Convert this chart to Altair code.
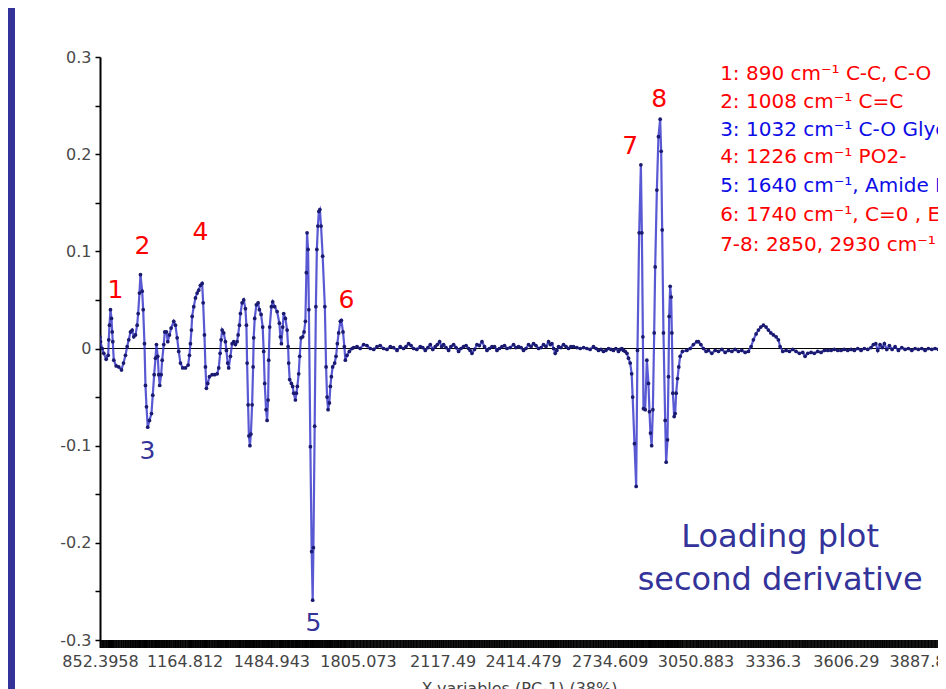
import altair as alt
import pandas as pd

# ---- loading values (wavenumber cm-1, loading) ----
fingerprint_a = [
    (852.4, 0.012), (854.2, 0.007), (860.5, 0.000), (866.4, -0.005), (875.2, -0.011), (882.6, -0.007),
    (884.8, 0.009), (887.4, 0.024), (891.1, 0.040), (894.8, 0.031), (897.4, 0.017), (899.6, 0.007),
    (903.3, -0.012), (912.2, -0.018), (921.7, -0.019), (931.7, -0.022), (939.1, -0.015), (946.5, -0.007),
    (952.7, 0.002), (958.6, 0.009), (964.9, 0.017), (971.2, 0.019), (977.1, 0.012), (983.4, 0.014),
    (989.6, 0.024), (993.3, 0.036), (998.1, 0.057), (1001.8, 0.076), (1008.1, 0.059), (1011.8, 0.040),
    (1016.6, 0.005), (1020.3, -0.038), (1024.0, -0.060), (1028.7, -0.081), (1035.0, -0.074), (1042.4, -0.067),
    (1047.2, -0.048), (1052.4, -0.027), (1057.2, -0.010), (1060.8, 0.004), (1065.6, -0.008), (1069.3, -0.027),
    (1073.0, -0.038), (1078.2, -0.027), (1081.9, -0.012), (1087.8, 0.004), (1091.5, 0.017), (1097.7, 0.017),
    (1102.6, 0.007), (1108.8, 0.014), (1115.1, 0.021), (1124.7, 0.028), (1131.0, 0.024), (1137.2, 0.011),
    (1143.1, -0.003), (1149.4, -0.015), (1157.9, -0.020), (1167.9, -0.020), (1177.8, -0.017),
]
fingerprint_b = [
    (1182.6, -0.007), (1186.3, 0.005), (1190.0, 0.019), (1192.6, 0.033), (1198.5, 0.043), (1204.8, 0.052),
    (1211.0, 0.057), (1216.9, 0.060), (1223.2, 0.065), (1229.5, 0.067), (1233.2, 0.047), (1238.0, 0.014),
    (1241.7, -0.019), (1245.3, -0.041), (1250.1, -0.036), (1256.4, -0.029), (1266.4, -0.027), (1276.0, -0.027),
    (1284.9, -0.026), (1290.8, -0.020), (1295.9, -0.005), (1299.6, 0.009), (1303.3, 0.019), (1309.2, 0.016),
    (1315.5, 0.007), (1319.1, -0.002), (1323.9, -0.015), (1327.6, -0.020), (1333.9, -0.008), (1340.2, 0.005),
    (1346.1, 0.007), (1352.3, 0.004), (1358.6, 0.007), (1362.3, 0.014), (1367.1, 0.024), (1370.8, 0.036),
    (1377.1, 0.047), (1383.0, 0.050), (1389.3, 0.041), (1392.9, 0.024), (1395.5, -0.015), (1399.2, -0.058),
    (1402.2, -0.090), (1405.9, -0.100), (1409.6, -0.088), (1414.0, -0.058), (1417.7, -0.019), (1419.9, 0.011),
    (1423.6, 0.031), (1429.8, 0.045), (1436.1, 0.047), (1440.9, 0.040), (1447.2, 0.035), (1453.1, 0.022),
    (1456.8, -0.003), (1460.5, -0.036), (1465.6, -0.063), (1469.3, -0.074), (1473.0, -0.053), (1475.3, -0.012),
    (1478.9, 0.022), (1485.2, 0.043), (1490.0, 0.048), (1497.4, 0.043), (1506.3, 0.038), (1514.7, 0.026),
    (1518.4, 0.012), (1522.1, 0.005), (1527.0, 0.022), (1530.6, 0.036), (1536.9, 0.031), (1543.2, 0.019),
    (1546.9, 0.002), (1549.1, -0.015), (1552.7, -0.032), (1559.0, -0.036), (1563.8, -0.039), (1567.5, -0.046),
    (1573.8, -0.053), (1577.4, -0.046), (1581.1, -0.039), (1586.0, -0.026), (1589.7, -0.008), (1594.6, 0.011),
    (1600.7, 0.012), (1605.8, 0.017), (1610.7, 0.028), (1614.3, 0.078), (1616.9, 0.119), (1620.6, 0.102),
    (1623.6, 0.040), (1629.1, -0.101), (1633.9, -0.209), (1637.6, -0.259), (1640.3, -0.205), (1645.0, -0.080),
    (1649.4, 0.043), (1653.1, 0.102), (1656.8, 0.126), (1660.5, 0.141), (1664.2, 0.143), (1668.6, 0.126),
    (1674.5, 0.095), (1682.6, 0.043), (1687.1, -0.019), (1690.8, -0.050), (1694.5, -0.063), (1699.2, -0.056),
    (1702.9, -0.039), (1706.6, -0.029), (1711.4, -0.019), (1718.8, -0.015), (1723.9, -0.008), (1728.7, 0.005),
    (1733.6, 0.016), (1739.8, 0.028), (1743.5, 0.029), (1749.6, 0.017), (1754.6, 0.002), (1758.2, -0.012),
    (1764.5, -0.007), (1773.0, -0.003), (1783.0, 0.000),
]
quiet_region = [
    (1789.0, 0.001), (1801.4, 0.002), (1813.0, 0.000), (1825.8, 0.004), (1838.0, 0.003), (1850.5, 0.000),
    (1863.0, -0.001), (1875.2, 0.002), (1887.0, 0.003), (1899.6, 0.000), (1912.0, -0.001), (1924.3, 0.002),
    (1936.0, 0.001), (1949.0, -0.002), (1961.0, 0.002), (1973.4, 0.000), (1982.0, 0.002), (1991.8, 0.005),
    (2001.0, 0.003), (2010.3, 0.000), (2022.0, -0.001), (2035.0, 0.002), (2044.0, 0.001), (2053.5, -0.002),
    (2063.0, 0.001), (2071.9, 0.004), (2081.0, -0.001), (2090.4, 0.002), (2098.0, 0.004), (2106.3, 0.007),
    (2114.0, 0.002), (2121.0, 0.004), (2130.0, 0.001), (2139.5, -0.002), (2148.0, 0.002), (2157.9, 0.004),
    (2167.0, 0.001), (2176.4, -0.003), (2185.0, 0.000), (2194.8, 0.002), (2204.0, 0.003), (2213.3, 0.000),
    (2219.0, -0.002), (2225.8, -0.005), (2235.0, -0.001), (2244.3, 0.004), (2253.0, 0.003), (2262.7, 0.007),
    (2272.0, 0.002), (2281.2, -0.002), (2290.0, 0.000), (2299.6, 0.002), (2309.0, 0.002), (2318.1, -0.002),
    (2327.0, 0.000), (2336.5, 0.002), (2346.0, 0.003), (2355.0, 0.000), (2367.0, 0.001), (2379.3, 0.004),
    (2388.0, 0.001), (2397.8, 0.002), (2407.0, 0.001), (2416.2, -0.002), (2425.0, 0.000), (2434.7, 0.004),
    (2444.0, 0.002), (2453.1, 0.005), (2462.0, 0.003), (2471.6, 0.000), (2481.0, 0.001), (2490.0, 0.004),
    (2499.0, 0.002), (2508.5, 0.007), (2515.0, 0.004), (2521.0, 0.005), (2527.0, 0.000), (2533.2, -0.005),
    (2539.0, -0.002), (2545.4, 0.002), (2554.0, 0.001), (2563.8, 0.004), (2573.0, 0.002), (2582.3, 0.000),
    (2591.0, 0.002), (2600.7, 0.002), (2613.0, 0.001), (2625.4, 0.000), (2638.0, 0.001), (2650.1, 0.000),
    (2662.0, -0.001), (2674.4, 0.002), (2684.0, 0.000), (2692.9, -0.002), (2702.0, -0.001), (2711.3, -0.003),
    (2720.0, -0.002), (2729.8, 0.000), (2739.0, -0.001), (2748.2, -0.002), (2757.0, 0.000), (2766.7, -0.003),
    (2773.0, -0.001), (2779.2, 0.000), (2785.0, -0.002), (2791.4, -0.003),
]
ch_stretch = [
    (2797.8, -0.005), (2803.6, -0.010), (2809.9, -0.015), (2815.4, -0.026), (2819.1, -0.050), (2825.7, -0.098),
    (2832.0, -0.142), (2836.8, -0.002), (2843.1, 0.119), (2849.4, 0.189), (2853.1, 0.119), (2856.8, 0.012),
    (2859.0, -0.062), (2865.3, -0.063), (2871.5, -0.012), (2877.4, -0.036), (2881.1, -0.065), (2884.8, -0.087),
    (2889.2, -0.100), (2893.7, -0.063), (2898.5, 0.016), (2902.2, 0.084), (2908.4, 0.163), (2914.3, 0.218),
    (2920.6, 0.236), (2924.3, 0.203), (2928.0, 0.122), (2932.8, 0.016), (2939.1, -0.074), (2942.7, -0.117),
    (2947.6, -0.094), (2951.3, -0.029), (2953.8, 0.033), (2957.5, 0.064), (2961.2, 0.053), (2963.8, 0.016),
    (2967.5, -0.046), (2972.3, -0.070), (2976.0, -0.067), (2979.6, -0.046), (2984.6, -0.031), (2989.4, -0.019),
    (2994.4, -0.008), (3002.8, -0.003), (3019.1, -0.002), (3031.3, 0.000),
]
high_region = [
    (3043.4, 0.004), (3055.8, 0.007), (3061.9, 0.007), (3070.8, 0.004), (3080.4, 0.000), (3090.3, -0.003),
    (3098.8, -0.002), (3111.2, -0.005), (3123.6, -0.002), (3135.7, -0.003), (3148.3, -0.001), (3160.5, -0.004),
    (3172.7, -0.002), (3185.2, -0.003), (3197.4, -0.001), (3209.6, -0.003), (3222.1, -0.002), (3234.3, -0.004),
    (3246.4, -0.003), (3256.4, 0.002), (3264.9, 0.009), (3274.8, 0.015), (3283.4, 0.019), (3292.2, 0.022),
    (3301.8, 0.024), (3311.7, 0.022), (3320.2, 0.019), (3329.1, 0.016), (3338.7, 0.014), (3348.6, 0.012),
    (3357.1, 0.009), (3363.4, 0.002), (3373.3, -0.003), (3385.5, -0.002), (3397.7, -0.003), (3410.2, -0.001),
    (3422.4, -0.003), (3434.6, -0.005), (3447.1, -0.004), (3455.7, -0.008), (3465.5, -0.005), (3477.8, -0.004),
    (3489.9, -0.005), (3502.4, -0.003), (3514.7, -0.004), (3526.8, -0.002), (3539.4, -0.002), (3551.6, -0.002),
    (3563.8, -0.001), (3576.3, -0.002), (3588.5, -0.002), (3600.6, -0.001), (3613.2, -0.002), (3625.4, -0.001),
    (3637.5, -0.002), (3650.1, 0.000), (3662.3, -0.002), (3674.4, 0.000), (3687.0, -0.001), (3699.2, 0.001),
    (3707.7, 0.004), (3716.6, 0.005), (3724.0, -0.002), (3732.5, 0.004), (3741.0, 0.001), (3748.4, 0.005),
    (3757.3, -0.001), (3766.9, 0.003), (3776.9, -0.001), (3788.0, 0.002), (3800.2, -0.002), (3812.7, 0.001),
    (3824.9, -0.001), (3837.0, 0.000), (3849.6, -0.002), (3861.8, 0.000), (3873.9, -0.001), (3886.5, 0.000),
    (3898.7, -0.002), (3910.8, 0.000), (3923.4, -0.001), (3935.6, 0.000), (3947.8, -0.001),
]

x_tick_values = [852.3958, 1164.812, 1484.943, 1805.073, 2117.49, 2414.479,
                 2734.609, 3050.883, 3336.3, 3606.29, 3887.81]
y_tick_values = [-0.3, -0.25, -0.2, -0.15, -0.1, -0.05, 0, 0.05, 0.1, 0.15, 0.2, 0.25, 0.3]

peak_text = ["1", "2", "3", "4", "5", "6", "7", "8"]
peak_w = [909.6, 1009.2, 1027.6, 1223.2, 1640.2, 1762.0, 2809.9, 2917.0]
peak_v = [0.060, 0.105, -0.105, 0.120, -0.282, 0.050, 0.208, 0.257]
peak_col = ["#ff0000", "#ff0000", "#333399", "#ff0000", "#333399", "#ff0000", "#ff0000", "#ff0000"]

legend_text = [
    "1: 890 cm⁻¹ C-C, C-O",
    "2: 1008 cm⁻¹ C=C",
    "3: 1032 cm⁻¹ C-O Glycogen",
    "4: 1226 cm⁻¹ PO2-",
    "5: 1640 cm⁻¹, Amide I",
    "6: 1740 cm⁻¹, C=0 , Ester",
    "7-8: 2850, 2930 cm⁻¹ CH2, CH3",
]
legend_v = [0.282, 0.2536, 0.2253, 0.1969, 0.1675, 0.1376, 0.1067]
legend_col = ["#ff0000", "#ff0000", "#0d0de6", "#ff0000", "#0d0de6", "#ff0000", "#ff0000"]
legend_w = 3142.0

caption_text = ["Loading plot", "second derivative"]
caption_w = [3363.4, 3363.4]
caption_v = [-0.1943, -0.2387]

# ---- tables ----
all_pts = fingerprint_a + fingerprint_b + quiet_region + ch_stretch + high_region
df = pd.DataFrame(all_pts, columns=["w", "v"])
peaks_df = pd.DataFrame({"w": peak_w, "v": peak_v, "t": peak_text, "c": peak_col})
legend_df = pd.DataFrame({"w": [legend_w] * len(legend_text), "v": legend_v, "t": legend_text, "c": legend_col})
caption_df = pd.DataFrame({"w": caption_w, "v": caption_v, "t": caption_text})

W, H = 838, 583
x_scale = alt.Scale(domain=[852.3958, 3946.4], nice=False, zero=False)
y_scale = alt.Scale(domain=[-0.3, 0.3], nice=False, zero=False)

x_axis = alt.Axis(
    values=x_tick_values, labelExpr="'' + datum.value", labelOverlap=False, labelFlush=False,
    tickSize=0, labelPadding=13, domainColor="black", domainWidth=1, grid=False,
    labelFont="DejaVu Sans", labelFontSize=16, labelColor="#444444",
    title="X-variables (PC-1) (38%)", titleFont="DejaVu Sans", titleFontSize=16,
    titleFontWeight="normal", titleColor="#444444", titlePadding=11,
)
y_axis = alt.Axis(
    values=y_tick_values,
    labelExpr="(round(datum.value*100) % 10 == 0) ? ('' + datum.value) : ''",
    tickSize=5, tickColor="black", tickWidth=1.5, domainColor="black", domainWidth=2,
    labelPadding=4, grid=False, labelFont="DejaVu Sans", labelFontSize=16, labelColor="#4a4a4a",
    title=None,
)

X = alt.X("w:Q", scale=x_scale, axis=x_axis)
Y = alt.Y("v:Q", scale=y_scale, axis=y_axis)

strip = alt.Chart(pd.DataFrame({"k": [0]})).mark_rect(color="#333399").encode(
    x=alt.value(-92), x2=alt.value(-85), y=alt.value(-49), y2=alt.value(H + 49)
)
tick_band = alt.Chart(pd.DataFrame({"k": [0]})).mark_rect(color="#151515").encode(
    x=alt.value(0), x2=alt.value(W), y=alt.value(H), y2=alt.value(H + 8)
)
tick_marks = alt.Chart(df).mark_rule(color="black", strokeWidth=1).encode(
    x=X, y=alt.value(H), y2=alt.value(H + 8)
)
zero_line = alt.Chart(pd.DataFrame({"v": [0.0]})).mark_rule(color="black", strokeWidth=1).encode(y=Y)
line = alt.Chart(df).mark_line(color="#3030c8", strokeWidth=2.2, opacity=0.8, clip=True).encode(x=X, y=Y)
dots = alt.Chart(df).mark_point(shape="circle", filled=True, size=14, color="#1a1a70",
                                opacity=1, clip=True).encode(x=X, y=Y)
peaks = alt.Chart(peaks_df).mark_text(font="DejaVu Sans", fontSize=25, baseline="middle").encode(
    x=X, y=Y, text="t:N", color=alt.Color("c:N", scale=None)
)
legend = alt.Chart(legend_df).mark_text(font="DejaVu Sans", fontSize=20, align="left",
                                        baseline="middle").encode(
    x=X, y=Y, text="t:N", color=alt.Color("c:N", scale=None)
)
caption = alt.Chart(caption_df).mark_text(font="DejaVu Sans", fontSize=32, baseline="middle",
                                          color="#33339a").encode(x=X, y=Y, text="t:N")

chart = alt.layer(strip, tick_band, tick_marks, zero_line, line, dots, peaks, legend, caption).properties(
    width=W, height=H,
    padding={"left": 92, "top": 49, "right": 0, "bottom": 49},
    autosize=alt.AutoSizeParams(type="none"),
    background="white",
).configure_view(stroke=None)

chart.save("out.html", embed_options={"renderer": "svg", "actions": False})
